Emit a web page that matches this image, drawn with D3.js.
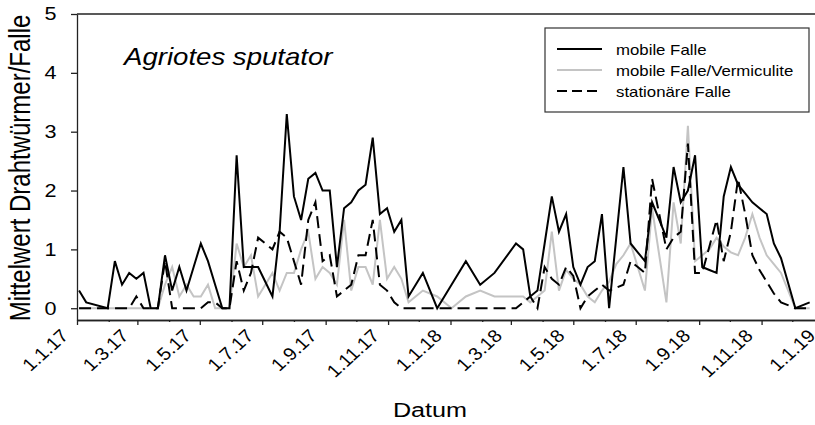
<!DOCTYPE html>
<html>
<head>
<meta charset="utf-8">
<script src="https://cdn.jsdelivr.net/npm/d3@7"></script>
<style>
  body { margin: 0; background: #fff; }
  text { font-family: "Liberation Sans", Arial, sans-serif; fill: #000; }
</style>
</head>
<body>
<svg id="chart"></svg>
<script>
const svgWidth = 815;
const svgHeight = 425;

// sampling dates (weekly, bi-weekly in winter)
const dates = [
  "2017-01-03","2017-01-10","2017-01-31","2017-02-07","2017-02-14","2017-02-21","2017-02-28",
  "2017-03-07","2017-03-14","2017-03-21","2017-03-28","2017-04-04","2017-04-11","2017-04-18",
  "2017-04-25","2017-05-02","2017-05-09","2017-05-16","2017-05-23","2017-05-30","2017-06-06",
  "2017-06-13","2017-06-20","2017-06-27","2017-07-04","2017-07-11","2017-07-18","2017-07-25",
  "2017-08-01","2017-08-08","2017-08-15","2017-08-22","2017-08-29","2017-09-05","2017-09-12",
  "2017-09-19","2017-09-26","2017-10-03","2017-10-10","2017-10-17","2017-10-24","2017-10-31",
  "2017-11-07","2017-11-14","2017-11-21","2017-12-05","2017-12-19","2018-01-02","2018-01-16",
  "2018-01-30","2018-02-13","2018-03-06","2018-03-13","2018-03-20","2018-03-27","2018-04-03",
  "2018-04-10","2018-04-17","2018-04-24","2018-05-01","2018-05-08","2018-05-15","2018-05-22",
  "2018-05-29","2018-06-05","2018-06-12","2018-06-19","2018-06-26","2018-07-03","2018-07-10",
  "2018-07-17","2018-07-24","2018-07-31","2018-08-07","2018-08-14","2018-08-21","2018-08-28",
  "2018-09-04","2018-09-11","2018-09-18","2018-09-25","2018-10-02","2018-10-09","2018-10-16",
  "2018-10-23","2018-10-30","2018-11-06","2018-11-13","2018-11-20","2018-12-04","2018-12-18"
];

const mobile = [
  0.3,0.1,0,0.8,0.4,0.6,0.5,
  0.6,0,0,0.9,0.3,0.7,0.3,
  0.7,1.1,0.8,0.4,0,0,2.6,
  0.7,0.7,0.7,0.45,0.2,1.3,3.3,
  1.9,1.5,2.2,2.3,2.0,2.0,0.7,
  1.7,1.8,2.0,2.1,2.9,1.6,1.7,
  1.3,1.5,0.2,0.6,0,0.4,0.8,
  0.4,0.6,1.1,1.0,0.2,0.3,1.1,
  1.9,1.3,1.6,0.7,0.4,0.7,0.8,
  1.6,0,1.2,2.4,1.1,0.95,0.8,
  1.8,1.5,1.2,2.4,1.8,2.0,2.6,
  0.7,0.65,0.6,1.9,2.4,2.1,1.95,
  1.8,1.7,1.6,1.1,0.85,0,0.1
];

const vermiculite = [
  0,0,0,0,0,0,0,
  0,0,0,0.4,0.7,0.2,0.4,
  0.2,0.2,0.4,0,0,0,1.1,
  0.7,0.9,0.2,0.4,0.6,0.3,0.6,
  0.6,1.0,1.3,0.5,0.7,0.6,0.4,
  1.5,0.3,0.7,0.7,0.4,1.5,0.5,
  0.7,0.5,0.1,0.3,0.2,0,0.2,
  0.3,0.2,0.2,0.2,0.1,0.2,0.3,
  1.3,0.3,0.65,0.5,0.4,0.2,0.1,
  0.3,0.45,0.75,0.9,1.1,0.7,0.3,
  1.7,0.9,0.1,1.8,1.1,3.1,0.8,
  0.9,1.0,1.2,1.05,0.95,0.9,1.2,
  1.6,1.2,0.9,0.75,0.6,0,0
];

const stationary = [
  0,0,0,0,0,0,0.2,
  0,0,0,0.8,0,0,0,
  0,0,0.1,0.1,0,0,0.8,
  0.3,0.6,1.2,1.1,1.0,1.3,1.2,
  0.8,0.4,1.5,1.8,0.8,0.9,0.2,
  0.3,0.4,0.9,0.9,1.5,0.4,0.3,
  0.1,0,0,0,0,0,0,
  0,0,0,0.1,0.2,0,0.7,
  0.5,0.4,0.7,0.55,0,0.2,0.3,
  0.4,0.3,0.35,0.4,0.8,0.7,0.6,
  2.2,1.6,1.0,1.2,1.3,2.8,0.6,
  0.6,1.05,1.5,0.8,1.3,2.2,1.6,
  0.9,0.65,0.45,0.25,0.1,0,0
];

const yTicks = [0, 1, 2, 3, 4, 5];
const seriesNames = ["mobile Falle", "mobile Falle/Vermiculite", "stationäre Falle"];

// the picture is a bit wider than tall, text is stretched sideways
const sx = 1.2;

const parseDate = d3.timeParse("%Y-%m-%d");
const fmt = d3.timeFormat("%-d.%-m.%y");

const svg = d3.select("#chart")
  .attr("width", svgWidth)
  .attr("height", svgHeight);

svg.append("rect").attr("width", svgWidth).attr("height", svgHeight).attr("fill", "#fff");

const x = d3.scaleTime()
  .domain([new Date(2017, 0, 1), new Date(2019, 0, 1)])
  .range([77, 824]);

const y = d3.scaleLinear()
  .domain([-0.2, 5])
  .range([320, 14]);

const axisColor = "#222";

// top frame line
svg.append("line")
  .attr("x1", 77).attr("x2", 840)
  .attr("y1", 14).attr("y2", 14)
  .attr("stroke", axisColor).attr("stroke-width", 1.3);

// x axis: labelled ticks every 2 months, small ticks in between
const months = d3.timeMonth.range(new Date(2017, 0, 1), new Date(2019, 0, 2));
const majorMonths = months.filter(d => d.getMonth() % 2 === 0);
const minorMonths = months.filter(d => d.getMonth() % 2 === 1);

svg.append("g")
  .attr("transform", "translate(0,320)")
  .call(d3.axisBottom(x).tickValues(minorMonths).tickSize(2).tickSizeOuter(0).tickFormat(""))
  .call(g => g.selectAll("line,path").attr("stroke", axisColor).attr("stroke-width", 1.3));

const xAxis = svg.append("g")
  .attr("transform", "translate(0,320)")
  .call(d3.axisBottom(x).tickValues(majorMonths).tickSize(5).tickSizeOuter(0).tickFormat(fmt))
  .call(g => g.selectAll("line,path").attr("stroke", axisColor).attr("stroke-width", 1.3));

xAxis.selectAll("text")
  .attr("x", 0).attr("y", 0).attr("dy", 0)
  .attr("transform", "translate(-8,17) scale(1.1,1) rotate(-45)")
  .style("text-anchor", "end")
  .style("font-size", "18px")
  .style("font-family", "'Liberation Sans', Arial, sans-serif")
  .attr("fill", "#000");

// y axis
const yAxis = svg.append("g")
  .attr("transform", "translate(77,0)")
  .call(d3.axisLeft(y).tickValues(yTicks).tickSize(6).tickSizeOuter(0).tickPadding(11).tickFormat(d3.format("d")))
  .call(g => g.selectAll("line,path").attr("stroke", axisColor).attr("stroke-width", 1.3));

yAxis.selectAll("text")
  .attr("transform", `scale(${sx},1)`)
  .style("font-size", "18px")
  .style("font-family", "'Liberation Sans', Arial, sans-serif")
  .attr("fill", "#000");

// lines
const line = vals => d3.line()
  .x((d, i) => x(parseDate(dates[i])))
  .y(d => y(d))(vals);

svg.append("path")
  .attr("d", line(vermiculite))
  .attr("fill", "none")
  .attr("stroke", "#c4c4c4")
  .attr("stroke-width", 2);

svg.append("path")
  .attr("d", line(stationary))
  .attr("fill", "none")
  .attr("stroke", "#000")
  .attr("stroke-width", 2)
  .attr("stroke-dasharray", "12,6");

svg.append("path")
  .attr("d", line(mobile))
  .attr("fill", "none")
  .attr("stroke", "#000")
  .attr("stroke-width", 2);

// texts with sideways stretch
function addText(px, py, str, size, extra) {
  const t = svg.append("text")
    .attr("transform", `translate(${px},${py}) scale(${sx},1)` + (extra || ""))
    .style("font-size", size + "px")
    .text(str);
  return t;
}

addText(124, 65, "Agriotes sputator", 23).style("font-style", "italic");

addText(430, 417, "Datum", 21).style("text-anchor", "middle");

addText(30, 168, "Mittelwert Drahtwürmer/Falle", 24, " rotate(-90)").style("text-anchor", "middle");

// legend
svg.append("rect")
  .attr("x", 545).attr("y", 28)
  .attr("width", 264).attr("height", 84)
  .attr("fill", "#fff")
  .attr("stroke", "#333").attr("stroke-width", 1.2);

const legendStyles = [
  { color: "#000", dash: null },
  { color: "#c4c4c4", dash: null },
  { color: "#000", dash: "10,5" }
];

seriesNames.forEach((name, i) => {
  const ly = 49 + i * 21;
  svg.append("line")
    .attr("x1", 557).attr("x2", 602)
    .attr("y1", ly).attr("y2", ly)
    .attr("stroke", legendStyles[i].color)
    .attr("stroke-width", 2)
    .attr("stroke-dasharray", legendStyles[i].dash);
  addText(616, ly + 6, name, 14);
});
</script>
</body>
</html>
